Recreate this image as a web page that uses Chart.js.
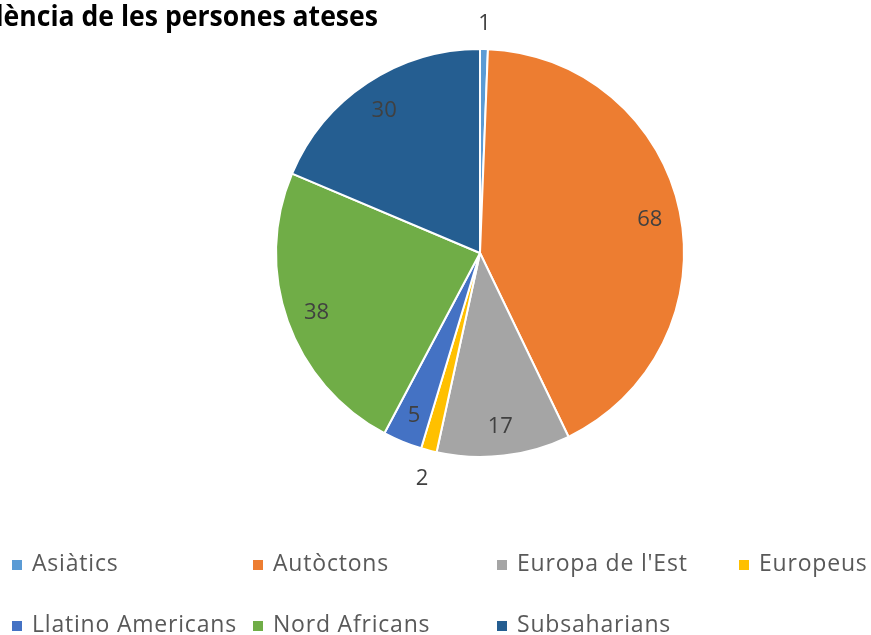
<!DOCTYPE html>
<html>
<head>
<meta charset="utf-8">
<script src="https://cdn.jsdelivr.net/npm/chart.js@4"></script>
<style>
  body { margin: 0; background: #fff; }
  #wrap { position: relative; width: 871px; height: 635px; overflow: hidden; }
  #legend { position: absolute; left: 0; top: 540px; width: 871px; font-family: "Open Sans", sans-serif; font-size: 23px; letter-spacing: 0.8px; color: #595959; }
  .item { position: absolute; white-space: nowrap; line-height: 24px; }
  .item span.box { display: inline-block; width: 10px; height: 10px; margin-right: 10px; vertical-align: 1px; }
</style>
</head>
<body>
<div id="wrap">
  <canvas id="pieChart" width="871" height="635"></canvas>
  <div id="legend"></div>
</div>
<script>
const title = 'Procedència de les persones ateses';
const titleTail = 'ència de les persones ateses';
const labels = ['Asiàtics', 'Autòctons', "Europa de l'Est", 'Europeus', 'Llatino Americans', 'Nord Africans', 'Subsaharians'];
const values = [1, 68, 17, 2, 5, 38, 30];
const colors = ['#5B9BD5', '#ED7D31', '#A5A5A5', '#FFC000', '#4472C4', '#70AD47', '#255E91'];

// legend placement (two rows, four columns)
const legendCols = [12, 253, 497, 739];
const legendRows = [10, 71];

const legendEl = document.getElementById('legend');
labels.forEach((l, i) => {
    const d = document.createElement('div');
    d.className = 'item';
    d.style.left = legendCols[i % 4] + 'px';
    d.style.top = legendRows[Math.floor(i / 4)] + 'px';
    d.innerHTML = '<span class="box" style="background:' + colors[i] + '"></span>' + l;
    legendEl.appendChild(d);
});

// title is cut off at the left edge in the original, keep it that way
const titlePlugin = {
    id: 'clippedTitle',
    afterDraw(chart) {
        const c = chart.ctx;
        c.save();
        c.font = 'bold 24px "Open Sans", sans-serif';
        const size = 24 * 375 / c.measureText(titleTail).width;
        c.font = 'bold ' + size.toFixed(1) + 'px "Open Sans", sans-serif';
        c.fillStyle = '#000';
        c.textAlign = 'right';
        c.textBaseline = 'alphabetic';
        c.translate(378, 26);
        c.scale(1, 1.1);
        c.fillText(title, 0, 0);
        c.restore();
    }
};

const valueLabels = {
    id: 'valueLabels',
    afterDatasetsDraw(chart) {
        const c = chart.ctx;
        const meta = chart.getDatasetMeta(0);
        c.save();
        c.font = '22px "Open Sans", sans-serif';
        c.fillStyle = '#404040';
        c.textAlign = 'center';
        c.textBaseline = 'middle';
        meta.data.forEach((arc, i) => {
            const p = arc.getProps(['x', 'y', 'startAngle', 'endAngle', 'outerRadius'], true);
            const mid = (p.startAngle + p.endAngle) / 2;
            const r = values[i] <= 2 ? p.outerRadius + 27 : p.outerRadius * 0.85;
            c.fillText(String(values[i]), p.x + Math.cos(mid) * r, p.y + Math.sin(mid) * r + 2);
        });
        c.restore();
    }
};

new Chart(document.getElementById('pieChart').getContext('2d'), {
    type: 'pie',
    data: {
        labels: labels,
        datasets: [{
            data: values,
            backgroundColor: colors,
            borderColor: '#fff',
            borderWidth: 2
        }]
    },
    options: {
        responsive: false,
        animation: false,
        layout: { padding: { top: 48, bottom: 177, left: 275, right: 186 } },
        plugins: {
            legend: { display: false },
            title: { display: false },
            tooltip: { enabled: false }
        }
    },
    plugins: [titlePlugin, valueLabels]
});
</script>
</body>
</html>
